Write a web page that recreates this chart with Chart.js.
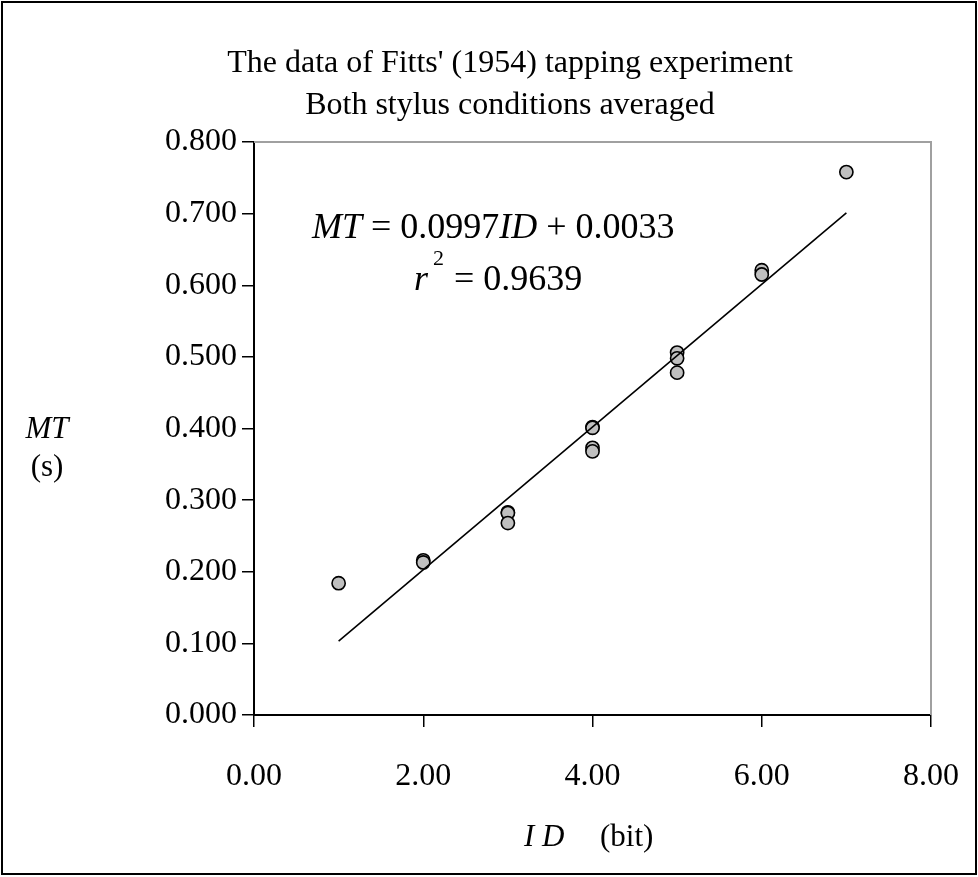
<!DOCTYPE html>
<html>
<head>
<meta charset="utf-8">
<script src="https://cdn.jsdelivr.net/npm/chart.js@4.4.1/dist/chart.umd.min.js"></script>
<style>
html,body{margin:0;padding:0;background:#fff;}
#wrap{position:relative;width:978px;height:877px;}
</style>
</head>
<body>
<div id="wrap"><canvas id="c" width="978" height="877"></canvas></div>
<script>
// Data
const idValues = [1, 2, 2, 3, 3, 3, 4, 4, 4, 4, 5, 5, 5, 6, 6, 7];
const mtValues = [0.184, 0.216, 0.213, 0.283, 0.282, 0.268, 0.402, 0.401, 0.373, 0.368, 0.506, 0.498, 0.478, 0.621, 0.615, 0.758];
// Regression line endpoints (MT = 0.0997 ID + 0.0033)
const fitX = [1, 7];
const fitY = [0.103, 0.701];
const xTickLabels = ['0.00', '2.00', '4.00', '6.00', '8.00'];
const yTickLabels = ['0.000', '0.100', '0.200', '0.300', '0.400', '0.500', '0.600', '0.700', '0.800'];
const titleLines = ["The data of Fitts' (1954) tapping experiment", 'Both stylus conditions averaged'];
const eqParts = [['MT', true], [' = 0.0997', false], ['ID', true], [' + 0.0033', false]];

const SERIF = '"Liberation Serif", "Times New Roman", serif';

const scatterData = idValues.map((x, i) => ({x: x, y: mtValues[i]}));
const fitData = fitX.map((x, i) => ({x: x, y: fitY[i]}));

function drawParts(ctx, parts, x, y, size) {
  let cx = x;
  parts.forEach(p => {
    ctx.font = (p[1] ? 'italic ' : '') + size + 'px ' + SERIF;
    ctx.fillText(p[0], cx, y);
    cx += ctx.measureText(p[0]).width;
  });
  return cx;
}

const decor = {
  id: 'decor',
  afterDatasetsDraw(chart) {
    const ctx = chart.ctx;
    const a = chart.chartArea;
    ctx.save();
    // grey top and right borders of plot area
    ctx.strokeStyle = '#a0a0a0';
    ctx.lineWidth = 2;
    ctx.beginPath();
    ctx.moveTo(a.left, a.top);
    ctx.lineTo(a.right, a.top);
    ctx.lineTo(a.right, a.bottom);
    ctx.stroke();
    // outer frame
    ctx.strokeStyle = '#000';
    ctx.lineWidth = 2;
    ctx.strokeRect(2, 2, 974, 872);
    ctx.fillStyle = '#000';
    ctx.textBaseline = 'alphabetic';
    // title
    ctx.textAlign = 'center';
    ctx.font = '32px ' + SERIF;
    ctx.fillText(titleLines[0], 510, 72);
    ctx.fillText(titleLines[1], 510, 114);
    // equation
    ctx.textAlign = 'left';
    drawParts(ctx, eqParts, 312, 238, 36);
    ctx.font = 'italic 36px ' + SERIF;
    ctx.fillText('r', 414, 290);
    ctx.font = '22px ' + SERIF;
    ctx.fillText('2', 433, 265);
    ctx.font = '36px ' + SERIF;
    ctx.fillText('= 0.9639', 454, 290);
    // y-axis title
    ctx.textAlign = 'center';
    ctx.font = 'italic 31px ' + SERIF;
    ctx.fillText('MT', 47, 438);
    ctx.font = '31px ' + SERIF;
    ctx.fillText('(s)', 47, 476);
    // x-axis title
    ctx.textAlign = 'left';
    ctx.font = 'italic 31px ' + SERIF;
    ctx.fillText('I D', 524, 846);
    ctx.font = '31px ' + SERIF;
    ctx.fillText('(bit)', 600, 846);
    ctx.restore();
  }
};

new Chart(document.getElementById('c'), {
  data: {
    datasets: [
      {
        type: 'line',
        data: fitData,
        borderColor: '#000',
        borderWidth: 1.6,
        pointRadius: 0,
        fill: false,
        order: 0
      },
      {
        type: 'scatter',
        data: scatterData,
        backgroundColor: '#c0c0c0',
        borderColor: '#000',
        borderWidth: 1.6,
        pointRadius: 6.6,
        order: 1
      }
    ]
  },
  options: {
    responsive: false,
    animation: false,
    events: [],
    layout: {padding: {left: 0, top: 142, right: 47, bottom: 0}},
    plugins: {legend: {display: false}, title: {display: false}, tooltip: {enabled: false}},
    scales: {
      x: {
        type: 'linear',
        min: 0, max: 8,
        afterFit(s) { s.height = 162; s.paddingLeft = 0; s.paddingRight = 0; },
        afterBuildTicks(s) { s.ticks = xTickLabels.map(t => ({value: parseFloat(t)})); },
        ticks: {
          callback: (v, i) => xTickLabels[i],
          color: '#000',
          font: {family: SERIF, size: 32},
          padding: 30,
          maxRotation: 0
        },
        grid: {drawOnChartArea: false, drawTicks: true, tickLength: 12, color: '#000', lineWidth: 1.5},
        border: {display: true, color: '#000', width: 2}
      },
      y: {
        type: 'linear',
        min: 0, max: 0.8,
        afterFit(s) { s.width = 254; s.paddingTop = 0; s.paddingBottom = 0; },
        afterBuildTicks(s) { s.ticks = yTickLabels.map(t => ({value: parseFloat(t)})); },
        ticks: {
          callback: (v, i) => yTickLabels[i],
          color: '#000',
          font: {family: SERIF, size: 32},
          padding: 5
        },
        grid: {drawOnChartArea: false, drawTicks: true, tickLength: 12, color: '#000', lineWidth: 1.5},
        border: {display: true, color: '#000', width: 2}
      }
    }
  },
  plugins: [decor]
});
</script>
</body>
</html>
